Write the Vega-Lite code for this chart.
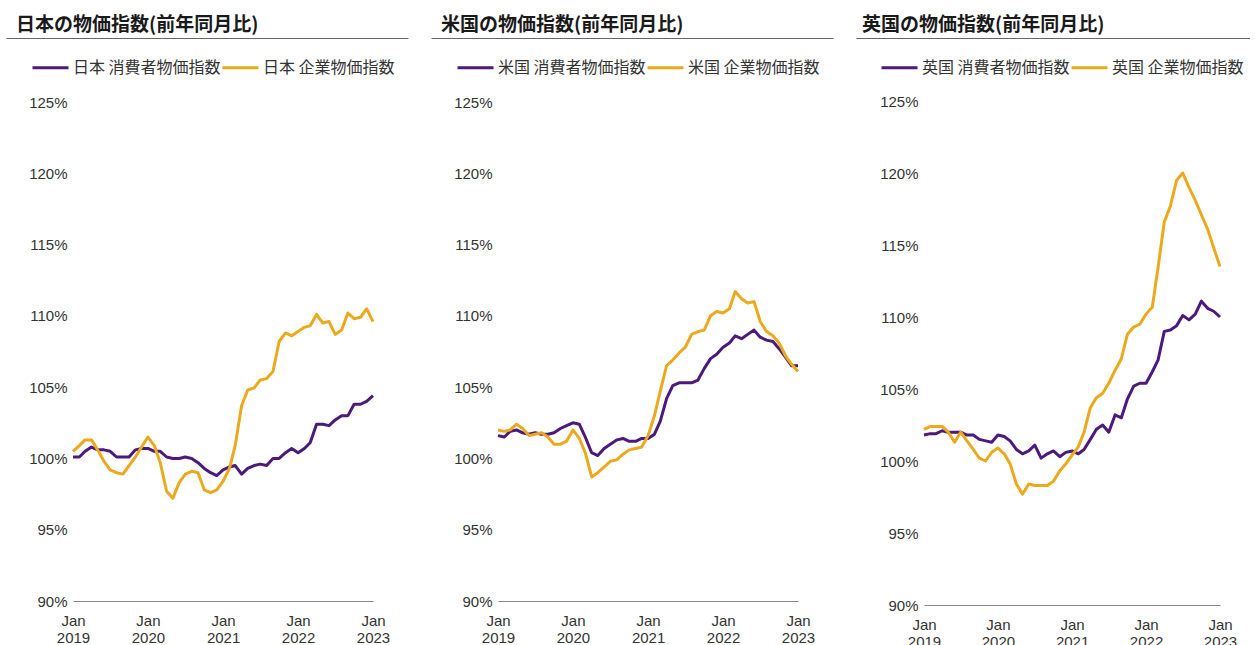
{
  "$schema": "https://vega.github.io/schema/vega-lite/v6.json",
  "padding": {"left": 6, "top": 16, "right": 0, "bottom": 0},
  "background": "white",
  "config": {"view": {"stroke": null}, "font": "Liberation Sans"},
  "datasets": {
    "d": [
      {"date": "2019-01-01", "jp_cpi": 100.1, "jp_ppi": 100.5, "us_cpi": 101.6, "us_ppi": 102.0, "uk_cpi": 101.8, "uk_ppi": 102.2},
      {"date": "2019-02-01", "jp_cpi": 100.1, "jp_ppi": 100.9, "us_cpi": 101.5, "us_ppi": 101.9, "uk_cpi": 101.9, "uk_ppi": 102.4},
      {"date": "2019-03-01", "jp_cpi": 100.5, "jp_ppi": 101.3, "us_cpi": 101.9, "us_ppi": 102.0, "uk_cpi": 101.9, "uk_ppi": 102.4},
      {"date": "2019-04-01", "jp_cpi": 100.8, "jp_ppi": 101.3, "us_cpi": 102.0, "us_ppi": 102.4, "uk_cpi": 102.1, "uk_ppi": 102.4},
      {"date": "2019-05-01", "jp_cpi": 100.6, "jp_ppi": 100.6, "us_cpi": 101.8, "us_ppi": 102.1, "uk_cpi": 102.0, "uk_ppi": 102.0},
      {"date": "2019-06-01", "jp_cpi": 100.6, "jp_ppi": 99.8, "us_cpi": 101.7, "us_ppi": 101.6, "uk_cpi": 102.0, "uk_ppi": 101.3},
      {"date": "2019-07-01", "jp_cpi": 100.5, "jp_ppi": 99.2, "us_cpi": 101.8, "us_ppi": 101.7, "uk_cpi": 102.0, "uk_ppi": 102.0},
      {"date": "2019-08-01", "jp_cpi": 100.1, "jp_ppi": 99.0, "us_cpi": 101.7, "us_ppi": 101.8, "uk_cpi": 101.8, "uk_ppi": 101.4},
      {"date": "2019-09-01", "jp_cpi": 100.1, "jp_ppi": 98.9, "us_cpi": 101.7, "us_ppi": 101.5, "uk_cpi": 101.8, "uk_ppi": 100.8},
      {"date": "2019-10-01", "jp_cpi": 100.1, "jp_ppi": 99.5, "us_cpi": 101.8, "us_ppi": 101.0, "uk_cpi": 101.5, "uk_ppi": 100.2},
      {"date": "2019-11-01", "jp_cpi": 100.6, "jp_ppi": 100.1, "us_cpi": 102.1, "us_ppi": 101.0, "uk_cpi": 101.4, "uk_ppi": 100.0},
      {"date": "2019-12-01", "jp_cpi": 100.7, "jp_ppi": 100.8, "us_cpi": 102.3, "us_ppi": 101.2, "uk_cpi": 101.3, "uk_ppi": 100.6},
      {"date": "2020-01-01", "jp_cpi": 100.7, "jp_ppi": 101.5, "us_cpi": 102.5, "us_ppi": 102.0, "uk_cpi": 101.8, "uk_ppi": 100.9},
      {"date": "2020-02-01", "jp_cpi": 100.5, "jp_ppi": 100.9, "us_cpi": 102.4, "us_ppi": 101.4, "uk_cpi": 101.7, "uk_ppi": 100.5},
      {"date": "2020-03-01", "jp_cpi": 100.5, "jp_ppi": 99.7, "us_cpi": 101.5, "us_ppi": 100.4, "uk_cpi": 101.4, "uk_ppi": 99.8},
      {"date": "2020-04-01", "jp_cpi": 100.1, "jp_ppi": 97.7, "us_cpi": 100.4, "us_ppi": 98.7, "uk_cpi": 100.8, "uk_ppi": 98.4},
      {"date": "2020-05-01", "jp_cpi": 100.0, "jp_ppi": 97.2, "us_cpi": 100.2, "us_ppi": 99.0, "uk_cpi": 100.5, "uk_ppi": 97.7},
      {"date": "2020-06-01", "jp_cpi": 100.0, "jp_ppi": 98.3, "us_cpi": 100.7, "us_ppi": 99.4, "uk_cpi": 100.7, "uk_ppi": 98.4},
      {"date": "2020-07-01", "jp_cpi": 100.1, "jp_ppi": 98.9, "us_cpi": 101.0, "us_ppi": 99.8, "uk_cpi": 101.1, "uk_ppi": 98.3},
      {"date": "2020-08-01", "jp_cpi": 100.0, "jp_ppi": 99.1, "us_cpi": 101.3, "us_ppi": 99.9, "uk_cpi": 100.2, "uk_ppi": 98.3},
      {"date": "2020-09-01", "jp_cpi": 99.7, "jp_ppi": 99.0, "us_cpi": 101.4, "us_ppi": 100.3, "uk_cpi": 100.5, "uk_ppi": 98.3},
      {"date": "2020-10-01", "jp_cpi": 99.3, "jp_ppi": 97.8, "us_cpi": 101.2, "us_ppi": 100.6, "uk_cpi": 100.7, "uk_ppi": 98.6},
      {"date": "2020-11-01", "jp_cpi": 99.0, "jp_ppi": 97.6, "us_cpi": 101.2, "us_ppi": 100.7, "uk_cpi": 100.3, "uk_ppi": 99.3},
      {"date": "2020-12-01", "jp_cpi": 98.8, "jp_ppi": 97.8, "us_cpi": 101.4, "us_ppi": 100.8, "uk_cpi": 100.6, "uk_ppi": 99.8},
      {"date": "2021-01-01", "jp_cpi": 99.2, "jp_ppi": 98.4, "us_cpi": 101.4, "us_ppi": 101.6, "uk_cpi": 100.7, "uk_ppi": 100.4},
      {"date": "2021-02-01", "jp_cpi": 99.4, "jp_ppi": 99.3, "us_cpi": 101.7, "us_ppi": 103.0, "uk_cpi": 100.5, "uk_ppi": 101.0},
      {"date": "2021-03-01", "jp_cpi": 99.5, "jp_ppi": 100.9, "us_cpi": 102.6, "us_ppi": 104.7, "uk_cpi": 100.8, "uk_ppi": 102.0},
      {"date": "2021-04-01", "jp_cpi": 98.9, "jp_ppi": 103.7, "us_cpi": 104.2, "us_ppi": 106.5, "uk_cpi": 101.5, "uk_ppi": 103.7},
      {"date": "2021-05-01", "jp_cpi": 99.3, "jp_ppi": 104.8, "us_cpi": 105.1, "us_ppi": 106.9, "uk_cpi": 102.2, "uk_ppi": 104.4},
      {"date": "2021-06-01", "jp_cpi": 99.5, "jp_ppi": 104.95, "us_cpi": 105.3, "us_ppi": 107.4, "uk_cpi": 102.5, "uk_ppi": 104.7},
      {"date": "2021-07-01", "jp_cpi": 99.6, "jp_ppi": 105.5, "us_cpi": 105.3, "us_ppi": 107.8, "uk_cpi": 102.0, "uk_ppi": 105.4},
      {"date": "2021-08-01", "jp_cpi": 99.5, "jp_ppi": 105.6, "us_cpi": 105.3, "us_ppi": 108.7, "uk_cpi": 103.2, "uk_ppi": 106.3},
      {"date": "2021-09-01", "jp_cpi": 100.0, "jp_ppi": 106.1, "us_cpi": 105.5, "us_ppi": 108.9, "uk_cpi": 103.0, "uk_ppi": 107.1},
      {"date": "2021-10-01", "jp_cpi": 100.0, "jp_ppi": 108.2, "us_cpi": 106.3, "us_ppi": 109.0, "uk_cpi": 104.3, "uk_ppi": 108.8},
      {"date": "2021-11-01", "jp_cpi": 100.4, "jp_ppi": 108.8, "us_cpi": 107.0, "us_ppi": 110.0, "uk_cpi": 105.2, "uk_ppi": 109.3},
      {"date": "2021-12-01", "jp_cpi": 100.7, "jp_ppi": 108.6, "us_cpi": 107.3, "us_ppi": 110.3, "uk_cpi": 105.4, "uk_ppi": 109.5},
      {"date": "2022-01-01", "jp_cpi": 100.4, "jp_ppi": 108.9, "us_cpi": 107.8, "us_ppi": 110.2, "uk_cpi": 105.4, "uk_ppi": 110.2},
      {"date": "2022-02-01", "jp_cpi": 100.7, "jp_ppi": 109.2, "us_cpi": 108.1, "us_ppi": 110.5, "uk_cpi": 106.2, "uk_ppi": 110.7},
      {"date": "2022-03-01", "jp_cpi": 101.1, "jp_ppi": 109.3, "us_cpi": 108.6, "us_ppi": 111.7, "uk_cpi": 107.0, "uk_ppi": 113.4},
      {"date": "2022-04-01", "jp_cpi": 102.4, "jp_ppi": 110.1, "us_cpi": 108.4, "us_ppi": 111.2, "uk_cpi": 109.0, "uk_ppi": 116.6},
      {"date": "2022-05-01", "jp_cpi": 102.4, "jp_ppi": 109.5, "us_cpi": 108.7, "us_ppi": 110.9, "uk_cpi": 109.1, "uk_ppi": 117.7},
      {"date": "2022-06-01", "jp_cpi": 102.3, "jp_ppi": 109.6, "us_cpi": 109.0, "us_ppi": 111.0, "uk_cpi": 109.4, "uk_ppi": 119.5},
      {"date": "2022-07-01", "jp_cpi": 102.7, "jp_ppi": 108.7, "us_cpi": 108.5, "us_ppi": 109.6, "uk_cpi": 110.1, "uk_ppi": 120.0},
      {"date": "2022-08-01", "jp_cpi": 103.0, "jp_ppi": 109.0, "us_cpi": 108.3, "us_ppi": 108.9, "uk_cpi": 109.8, "uk_ppi": 119.0},
      {"date": "2022-09-01", "jp_cpi": 103.0, "jp_ppi": 110.2, "us_cpi": 108.2, "us_ppi": 108.6, "uk_cpi": 110.2, "uk_ppi": 118.1},
      {"date": "2022-10-01", "jp_cpi": 103.8, "jp_ppi": 109.8, "us_cpi": 107.7, "us_ppi": 108.1, "uk_cpi": 111.1, "uk_ppi": 117.1},
      {"date": "2022-11-01", "jp_cpi": 103.8, "jp_ppi": 109.9, "us_cpi": 107.1, "us_ppi": 107.2, "uk_cpi": 110.6, "uk_ppi": 116.1},
      {"date": "2022-12-01", "jp_cpi": 104.0, "jp_ppi": 110.5, "us_cpi": 106.5, "us_ppi": 106.6, "uk_cpi": 110.4, "uk_ppi": 114.8},
      {"date": "2023-01-01", "jp_cpi": 104.4, "jp_ppi": 109.6, "us_cpi": 106.5, "us_ppi": 106.1, "uk_cpi": 110.0, "uk_ppi": 113.5}
    ]
  },
  "spacing": 23,
  "resolve": {"scale": {"color": "independent"}, "legend": {"color": "independent"}},
  "hconcat": [
    {
      "width": 402, "height": 563,
      "title": {"text": "日本の物価指数(前年同月比)", "anchor": "start", "font": "Noto Sans CJK JP", "fontSize": 19, "fontWeight": "bold", "color": "#1a1a1a", "dx": 10, "offset": -12, "baseline": "alphabetic"},
      "resolve": {"scale": {"x": "independent"}, "axis": {"x": "independent"}},
      "layer": [
        {
          "data": {"name": "d"},
          "transform": [{"fold": ["jp_cpi", "jp_ppi"], "as": ["series", "value"]}],
          "mark": {"type": "line", "strokeWidth": 3, "strokeJoin": "round"},
          "encoding": {
            "x": {"field": "date", "type": "temporal",
              "scale": {"type": "utc", "domain": [{"year": 2019, "month": 1, "date": 1, "utc": true}, {"year": 2023, "month": 1, "date": 1, "utc": true}], "range": [67, 367]},
              "axis": {"values": [{"year": 2019, "month": 1, "date": 1, "utc": true}, {"year": 2020, "month": 1, "date": 1, "utc": true}, {"year": 2021, "month": 1, "date": 1, "utc": true}, {"year": 2022, "month": 1, "date": 1, "utc": true}, {"year": 2023, "month": 1, "date": 1, "utc": true}],
                "labelExpr": "['Jan', utcFormat(datum.value, '%Y')]", "grid": false, "ticks": false, "domainColor": "#888", "labelFontSize": 15, "labelColor": "#333", "labelLineHeight": 17, "labelPadding": 12, "title": null, "labelFlush": false, "labelOverlap": false}},
            "y": {"field": "value", "type": "quantitative",
              "scale": {"domain": [90, 125], "nice": false, "zero": false, "range": [563, 64]},
              "axis": {"values": [90, 95, 100, 105, 110, 115, 120, 125], "labelExpr": "datum.value + '%'", "domain": false, "ticks": false, "grid": false, "labelFontSize": 15, "labelColor": "#333", "labelPadding": 3, "title": null, "offset": -64}},
            "color": {"field": "series", "type": "nominal",
              "scale": {"domain": ["jp_cpi", "jp_ppi"], "range": ["#4b1a7b", "#ebaa1e"]},
              "legend": {"orient": "none", "legendX": 25, "legendY": 10, "direction": "horizontal", "title": null, "symbolType": "stroke", "symbolSize": 1296, "symbolStrokeWidth": 3, "labelFont": "Noto Sans CJK JP", "labelFontSize": 16, "labelColor": "#333", "labelOffset": 3, "columnPadding": -8,
                "labelExpr": "datum.label == 'jp_cpi' ? '日本 消費者物価指数' : '日本 企業物価指数'"}}
          }
        },
        {
          "data": {"values": [{}]},
          "mark": {"type": "rule", "opacity": 0},
          "encoding": {"x": {"datum": 0, "type": "quantitative", "scale": {"domain": [0, 1]},
            "axis": {"orient": "top", "domain": true, "domainColor": "#666", "domainWidth": 1.2, "labels": false, "ticks": false, "grid": false, "title": null}}}
        }
      ]
    },
    {
      "width": 402, "height": 563,
      "title": {"text": "米国の物価指数(前年同月比)", "anchor": "start", "font": "Noto Sans CJK JP", "fontSize": 19, "fontWeight": "bold", "color": "#1a1a1a", "dx": 10, "offset": -12, "baseline": "alphabetic"},
      "resolve": {"scale": {"x": "independent"}, "axis": {"x": "independent"}},
      "layer": [
        {
          "data": {"name": "d"},
          "transform": [{"fold": ["us_cpi", "us_ppi"], "as": ["series", "value"]}],
          "mark": {"type": "line", "strokeWidth": 3, "strokeJoin": "round"},
          "encoding": {
            "x": {"field": "date", "type": "temporal",
              "scale": {"type": "utc", "domain": [{"year": 2019, "month": 1, "date": 1, "utc": true}, {"year": 2023, "month": 1, "date": 1, "utc": true}], "range": [67, 367]},
              "axis": {"values": [{"year": 2019, "month": 1, "date": 1, "utc": true}, {"year": 2020, "month": 1, "date": 1, "utc": true}, {"year": 2021, "month": 1, "date": 1, "utc": true}, {"year": 2022, "month": 1, "date": 1, "utc": true}, {"year": 2023, "month": 1, "date": 1, "utc": true}],
                "labelExpr": "['Jan', utcFormat(datum.value, '%Y')]", "grid": false, "ticks": false, "domainColor": "#888", "labelFontSize": 15, "labelColor": "#333", "labelLineHeight": 17, "labelPadding": 12, "title": null, "labelFlush": false, "labelOverlap": false}},
            "y": {"field": "value", "type": "quantitative",
              "scale": {"domain": [90, 125], "nice": false, "zero": false, "range": [563, 64]},
              "axis": {"values": [90, 95, 100, 105, 110, 115, 120, 125], "labelExpr": "datum.value + '%'", "domain": false, "ticks": false, "grid": false, "labelFontSize": 15, "labelColor": "#333", "labelPadding": 3, "title": null, "offset": -64}},
            "color": {"field": "series", "type": "nominal",
              "scale": {"domain": ["us_cpi", "us_ppi"], "range": ["#4b1a7b", "#ebaa1e"]},
              "legend": {"orient": "none", "legendX": 25, "legendY": 10, "direction": "horizontal", "title": null, "symbolType": "stroke", "symbolSize": 1296, "symbolStrokeWidth": 3, "labelFont": "Noto Sans CJK JP", "labelFontSize": 16, "labelColor": "#333", "labelOffset": 3, "columnPadding": -8,
                "labelExpr": "datum.label == 'us_cpi' ? '米国 消費者物価指数' : '米国 企業物価指数'"}}
          }
        },
        {
          "data": {"values": [{}]},
          "mark": {"type": "rule", "opacity": 0},
          "encoding": {"x": {"datum": 0, "type": "quantitative", "scale": {"domain": [0, 1]},
            "axis": {"orient": "top", "domain": true, "domainColor": "#666", "domainWidth": 1.2, "labels": false, "ticks": false, "grid": false, "title": null}}}
        }
      ]
    },
    {
      "width": 394, "height": 567,
      "title": {"text": "英国の物価指数(前年同月比)", "anchor": "start", "font": "Noto Sans CJK JP", "fontSize": 19, "fontWeight": "bold", "color": "#1a1a1a", "dx": 6, "offset": -12, "baseline": "alphabetic"},
      "resolve": {"scale": {"x": "independent"}, "axis": {"x": "independent"}},
      "layer": [
        {
          "data": {"name": "d"},
          "transform": [{"fold": ["uk_cpi", "uk_ppi"], "as": ["series", "value"]}],
          "mark": {"type": "line", "strokeWidth": 3, "strokeJoin": "round"},
          "encoding": {
            "x": {"field": "date", "type": "temporal",
              "scale": {"type": "utc", "domain": [{"year": 2019, "month": 1, "date": 1, "utc": true}, {"year": 2023, "month": 1, "date": 1, "utc": true}], "range": [68, 364]},
              "axis": {"values": [{"year": 2019, "month": 1, "date": 1, "utc": true}, {"year": 2020, "month": 1, "date": 1, "utc": true}, {"year": 2021, "month": 1, "date": 1, "utc": true}, {"year": 2022, "month": 1, "date": 1, "utc": true}, {"year": 2023, "month": 1, "date": 1, "utc": true}],
                "labelExpr": "['Jan', utcFormat(datum.value, '%Y')]", "grid": false, "ticks": false, "domainColor": "#888", "labelFontSize": 15, "labelColor": "#333", "labelLineHeight": 17, "labelPadding": 12, "title": null, "labelFlush": false, "labelOverlap": false}},
            "y": {"field": "value", "type": "quantitative",
              "scale": {"domain": [90, 125], "nice": false, "zero": false, "range": [567, 63]},
              "axis": {"values": [90, 95, 100, 105, 110, 115, 120, 125], "labelExpr": "datum.value + '%'", "domain": false, "ticks": false, "grid": false, "labelFontSize": 15, "labelColor": "#333", "labelPadding": 3, "title": null, "offset": -65}},
            "color": {"field": "series", "type": "nominal",
              "scale": {"domain": ["uk_cpi", "uk_ppi"], "range": ["#4b1a7b", "#ebaa1e"]},
              "legend": {"orient": "none", "legendX": 24, "legendY": 10, "direction": "horizontal", "title": null, "symbolType": "stroke", "symbolSize": 1296, "symbolStrokeWidth": 3, "labelFont": "Noto Sans CJK JP", "labelFontSize": 16, "labelColor": "#333", "labelOffset": 3, "columnPadding": -8,
                "labelExpr": "datum.label == 'uk_cpi' ? '英国 消費者物価指数' : '英国 企業物価指数'"}}
          }
        },
        {
          "data": {"values": [{}]},
          "mark": {"type": "rule", "opacity": 0},
          "encoding": {"x": {"datum": 0, "type": "quantitative", "scale": {"domain": [0, 1]},
            "axis": {"orient": "top", "domain": true, "domainColor": "#666", "domainWidth": 1.2, "labels": false, "ticks": false, "grid": false, "title": null}}}
        }
      ]
    }
  ]
}
